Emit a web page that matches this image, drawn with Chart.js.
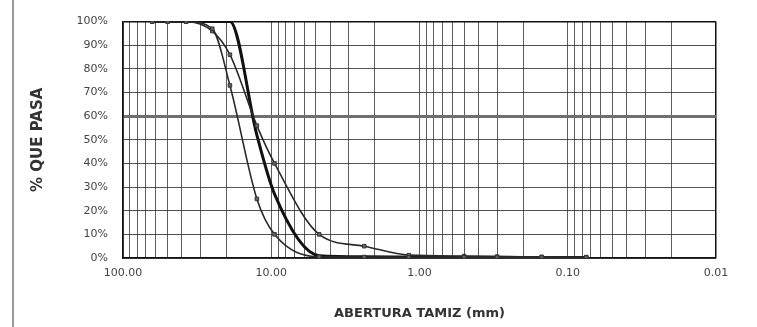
<!DOCTYPE html>
<html><head><meta charset="utf-8">
<script src="https://cdn.jsdelivr.net/npm/chart.js@4.4.1/dist/chart.umd.min.js"></script>
<style>
html,body{margin:0;padding:0;background:#fff;}
#wrap{position:relative;width:757px;height:327px;overflow:hidden;}
#edge{position:absolute;left:12px;top:0;width:2px;height:327px;background:#9a9a9a;}
</style></head><body>
<div id="wrap"><canvas id="c" width="757" height="327"></canvas><div id="edge"></div></div>
<script>
// Sieve openings (mm) and percent passing
const sieves = [63.5, 50, 37.5, 25, 19, 12.5, 9.5, 4.75, 2.36, 1.18, 0.5, 0.3, 0.15, 0.075];
const curveA = [100, 100, 100, 97, 73, 25, 10, 0.5, 0.4, 0.3, 0.3, 0.2, 0.2, 0.2];
const curveB = [100, 100, 100, 96, 86, 56, 40, 10, 5, 1.2, 0.8, 0.6, 0.5, 0.4];
const curveC = [100, 100, 100, 100, 100, 52, 27, 1, 0.5, 0.4, 0.3, 0.3, 0.2, 0.2];
const xMajorTicks = [100, 10, 1, 0.1, 0.01];
const yTickValues = [0, 10, 20, 30, 40, 50, 60, 70, 80, 90, 100];
const xTitle = 'ABERTURA TAMIZ (mm)';
const yTitle = '% QUE PASA';

const toPts = arr => sieves.map((s, i) => ({x: s, y: arr[i]}));
const isMajor = v => xMajorTicks.some(m => Math.abs(v - m) / m < 1e-6);

const minorTicks = [];
for (let e = -2; e <= 1; e++) {
  for (let m = 1; m <= 9; m++) minorTicks.push(+(m * Math.pow(10, e)).toPrecision(6));
}
minorTicks.push(100);

new Chart(document.getElementById('c'), {
  type: 'line',
  data: {
    datasets: [
      {data: toPts(curveA), borderColor: '#2a2a2a', borderWidth: 1.6, pointStyle: 'rect', pointRadius: 2.5,
       pointBackgroundColor: '#666', pointBorderColor: '#333', pointBorderWidth: 1, cubicInterpolationMode: 'monotone', fill: false},
      {data: toPts(curveB), borderColor: '#2a2a2a', borderWidth: 1.6, pointStyle: 'rect', pointRadius: 2.5,
       pointBackgroundColor: '#666', pointBorderColor: '#333', pointBorderWidth: 1, cubicInterpolationMode: 'monotone', fill: false},
      {data: toPts(curveC), borderColor: '#111', borderWidth: 3, pointRadius: 0, cubicInterpolationMode: 'monotone', fill: false}
    ]
  },
  options: {
    responsive: false,
    animation: false,
    events: [],
    layout: {padding: {left: 0, top: 19, right: 41, bottom: 0}},
    plugins: {legend: {display: false}, tooltip: {enabled: false}},
    scales: {
      x: {
        type: 'logarithmic', min: 0.01, max: 100, reverse: true,
        afterBuildTicks: s => { s.ticks = minorTicks.map(v => ({value: v})); },
        afterFit: s => { s.height = 69; },
        ticks: {autoSkip: false, maxRotation: 0, padding: 9, color: '#444',
          font: {family: 'DejaVu Sans', size: 11},
          callback: v => isMajor(v) ? v.toFixed(2) : ''},
        grid: {drawTicks: false,
          color: c => (c.tick && (c.tick.value === 0.01)) ? '#111' : 'rgba(40,40,40,0.75)',
          lineWidth: c => (c.tick && (c.tick.value === 0.01)) ? 1.5 : 1},
        border: {display: true, color: '#111', width: 1.5},
        title: {display: true, text: xTitle, color: '#333', padding: {top: 0, bottom: 6},
          font: {family: 'DejaVu Sans', size: 13, weight: 'bold'}}
      },
      y: {
        type: 'linear', min: 0, max: 100,
        afterBuildTicks: s => { s.ticks = yTickValues.map(v => ({value: v})); },
        afterFit: s => { s.width = 123; },
        ticks: {padding: 15, color: '#444', font: {family: 'DejaVu Sans', size: 11},
          callback: v => v + '%'},
        grid: {drawTicks: false,
          color: c => !c.tick ? '#444' : c.tick.value === 60 ? '#707070' : c.tick.value === 100 ? '#111' : 'rgba(40,40,40,0.8)',
          lineWidth: c => !c.tick ? 1 : c.tick.value === 60 ? 3 : c.tick.value === 100 ? 1.5 : 1},
        border: {display: true, color: '#111', width: 1.5},
        title: {display: true, text: yTitle, color: '#333', padding: {top: 29, bottom: 0},
          font: {family: 'DejaVu Sans', size: 15, weight: 'bold'}}
      }
    }
  }
});
</script>
</body></html>
